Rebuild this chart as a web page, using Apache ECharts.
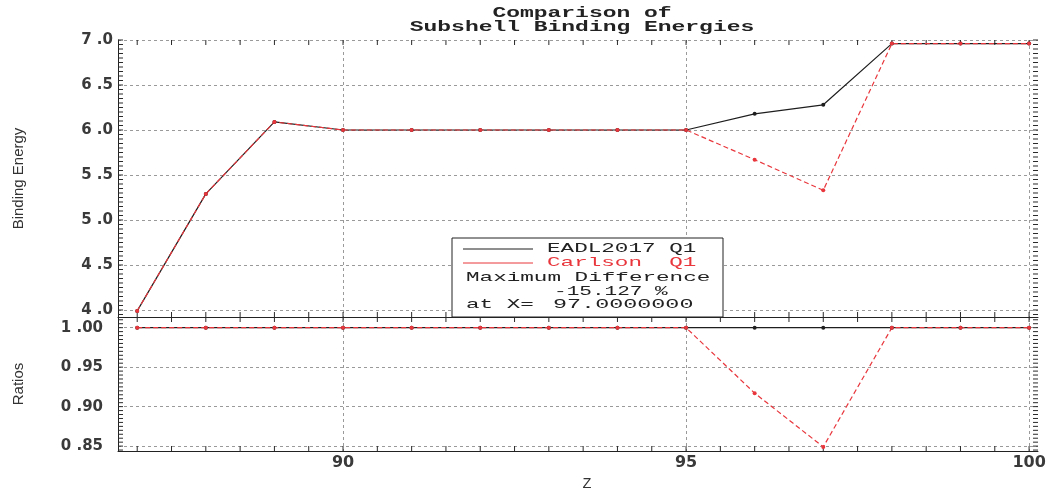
<!DOCTYPE html>
<html><head><meta charset="utf-8">
<script src="https://cdn.jsdelivr.net/npm/echarts@6/dist/echarts.min.js"></script>
<style>html,body{margin:0;padding:0;background:#fff}#c{width:1060px;height:493px}</style>
</head><body><div id="c"></div>
<script>
// ---- data ----
const zValues      = [87, 88, 89, 90, 91, 92, 93, 94, 95, 96, 97, 98, 99, 100];
const eadlQ1       = [3.99, 5.29, 6.09, 6.0, 6.0, 6.0, 6.0, 6.0, 6.0, 6.18, 6.28, 6.96, 6.96, 6.96];
const carlsonQ1    = [3.99, 5.29, 6.09, 6.0, 6.0, 6.0, 6.0, 6.0, 6.0, 5.67, 5.33, 6.96, 6.96, 6.96];
const ratioEadl    = [1, 1, 1, 1, 1, 1, 1, 1, 1, 1, 1, 1, 1, 1];
const ratioCarlson = [1, 1, 1, 1, 1, 1, 1, 1, 1, 0.917, 0.849, 1, 1, 1];
const xTickLabels      = [90, 95, 100];
const energyTickLabels = [4.0, 4.5, 5.0, 5.5, 6.0, 6.5, 7.0];
const ratioTickLabels  = [0.85, 0.90, 0.95, 1.00];
const titleLines  = ['Comparison of', 'Subshell Binding Energies'];
const seriesNames = ['EADL2017 Q1', 'Carlson  Q1'];
const diffLines   = ['Maximum Difference', '-15.127 %', 'at X=', '97.0000000'];

// axis extents (plot box edges)
const xRange = [86.72, 100.13];
const energyRange = [3.922, 7.0];
const ratioRange = [0.8438, 1.0135];
// minor tick spans
const xMinor = {min: 87, count: 27, step: 0.5};
const energyMinor = {min: 3.95, count: 62, step: 0.05};
const ratioMinor = {min: 0.845, count: 34, step: 0.005};

function tickList(m) {
  const out = [];
  for (let i = 0; i < m.count; i++) out.push(+(m.min + i * m.step).toFixed(4));
  return out;
}
const xTicks = tickList(xMinor);
const energyTicks = tickList(energyMinor);
const ratioTicks = tickList(ratioMinor);

const BLACK = '#1e1e1e', RED = '#e8363c', GRID = '#9a9a9a', TICK = '#2a2a2a';
const labelFont = {fontFamily: '"DejaVu Sans", sans-serif', fontWeight: 'bold', fontSize: 15, color: '#3a3a3a'};
const monoFont = '"Liberation Mono", "DejaVu Sans Mono", monospace';
const nameFont = {fontFamily: '"Liberation Sans Narrow", "Liberation Sans", sans-serif', fontSize: 15, color: '#333'};

const off = () => ({show: false});
const gridSplit = () => ({show: true, lineStyle: {color: GRID, type: [3, 3], width: 1}});
function gridAxis(extra, majors) {
  return Object.assign({type: 'value', axisLine: off(), axisLabel: off(),
    axisTick: {show: false, customValues: majors}, splitLine: gridSplit()}, extra);
}

// short tick marks drawn as thin rectangle symbols sitting on the panel edges
const LEN = 5;
function tickMarks(xi, yi, points, size, offset) {
  return {type: 'scatter', xAxisIndex: xi, yAxisIndex: yi, silent: true, clip: false, z: 4,
    symbol: 'rect', symbolSize: size, symbolOffset: offset,
    itemStyle: {color: TICK, opacity: 1}, emphasis: {disabled: true},
    data: points};
}
function panelTicks(xi, yi, yRange, yTicks) {
  return [
    tickMarks(xi, yi, xTicks.map(v => [v, yRange[0]]), [1, LEN], [0, -LEN / 2]),
    tickMarks(xi, yi, xTicks.map(v => [v, yRange[1]]), [1, LEN], [0, LEN / 2]),
    tickMarks(xi, yi, yTicks.map(v => [xRange[0], v]), [LEN, 1], [LEN / 2, 0]),
    tickMarks(xi, yi, yTicks.map(v => [xRange[1], v]), [LEN, 1], [-LEN / 2, 0])
  ];
}

const chart = echarts.init(document.getElementById('c'), null, {renderer: 'canvas'});
const option = {
  animation: false,
  backgroundColor: '#fff',
  grid: [
    {left: 118, width: 920, top: 40, height: 277, show: false},
    {left: 118, width: 920, top: 317, height: 138, show: false}
  ],
  xAxis: [
    {type: 'value', gridIndex: 0, min: xRange[0], max: xRange[1], splitNumber: 3,
     axisLine: {show: true, lineStyle: {color: '#222'}}, axisTick: off(), axisLabel: off(), splitLine: off()},
    {type: 'value', gridIndex: 1, min: xRange[0], max: xRange[1], splitNumber: 3,
     axisLine: {show: true, lineStyle: {color: '#222'}}, axisTick: off(),
     axisLabel: Object.assign({customValues: xTickLabels, margin: 4}, labelFont, {fontSize: 16}),
     splitLine: off(),
     name: 'Z', nameLocation: 'middle', nameGap: 26,
     nameTextStyle: {fontFamily: monoFont, fontSize: 15, color: '#333', padding: [0, 0, 0, 18]}},
    gridAxis({gridIndex: 0, min: xRange[0], max: xRange[1], splitNumber: 3}, xTickLabels),
    gridAxis({gridIndex: 1, min: xRange[0], max: xRange[1], splitNumber: 3}, xTickLabels)
  ],
  yAxis: [
    {type: 'value', gridIndex: 0, min: energyRange[0], max: energyRange[1], splitNumber: 6,
     axisLine: {show: true, lineStyle: {color: '#222'}}, axisTick: off(),
     axisLabel: Object.assign({customValues: energyTickLabels, margin: 5,
       formatter: v => v.toFixed(1).replace('.', ' .')}, labelFont),
     splitLine: off(),
     name: 'Binding Energy', nameLocation: 'middle', nameRotate: 90, nameGap: 92, nameTextStyle: nameFont},
    {type: 'value', gridIndex: 1, min: ratioRange[0], max: ratioRange[1], splitNumber: 3,
     axisLine: {show: true, lineStyle: {color: '#222'}}, axisTick: off(),
     axisLabel: Object.assign({customValues: ratioTickLabels, margin: 15,
       formatter: v => v.toFixed(2).replace('.', ' .')}, labelFont),
     splitLine: off(),
     name: 'Ratios', nameLocation: 'middle', nameRotate: 90, nameGap: 92, nameTextStyle: nameFont},
    gridAxis({gridIndex: 0, min: energyRange[0], max: energyRange[1], splitNumber: 6}, energyTickLabels),
    gridAxis({gridIndex: 1, min: ratioRange[0], max: ratioRange[1], splitNumber: 3}, ratioTickLabels)
  ],
  series: [].concat(
    panelTicks(0, 0, energyRange, energyTicks),
    panelTicks(1, 1, ratioRange, ratioTicks),
    [
      {type: 'line', name: seriesNames[0], xAxisIndex: 0, yAxisIndex: 0, z: 6,
       data: zValues.map((z, i) => [z, eadlQ1[i]]), symbol: 'circle', symbolSize: 4,
       itemStyle: {color: BLACK}, lineStyle: {color: BLACK, width: 1.2}},
      {type: 'line', name: seriesNames[1], xAxisIndex: 0, yAxisIndex: 0, z: 6,
       data: zValues.map((z, i) => [z, carlsonQ1[i]]), symbol: 'circle', symbolSize: 4,
       itemStyle: {color: RED}, lineStyle: {color: RED, width: 1.2, type: [5, 3]}},
      {type: 'line', name: seriesNames[0] + ' ratio', xAxisIndex: 1, yAxisIndex: 1, z: 6,
       data: zValues.map((z, i) => [z, ratioEadl[i]]), symbol: 'circle', symbolSize: 4,
       itemStyle: {color: BLACK}, lineStyle: {color: BLACK, width: 1.2}},
      {type: 'line', name: seriesNames[1] + ' ratio', xAxisIndex: 1, yAxisIndex: 1, z: 6,
       data: zValues.map((z, i) => [z, ratioCarlson[i]]), symbol: 'circle', symbolSize: 4,
       itemStyle: {color: RED}, lineStyle: {color: RED, width: 1.2, type: [5, 3]}}
    ]
  ),
  graphic: [
    {type: 'text', x: 582, y: 13, scaleX: 1.64, z: 10,
     style: {text: titleLines[0], font: 'bold 14px ' + monoFont, fill: '#222', align: 'center', verticalAlign: 'middle'}},
    {type: 'text', x: 582, y: 27, scaleX: 1.64, z: 10,
     style: {text: titleLines[1], font: 'bold 14px ' + monoFont, fill: '#222', align: 'center', verticalAlign: 'middle'}},
    {type: 'rect', z: 10, shape: {x: 452, y: 238, width: 271, height: 79},
     style: {fill: '#fff', stroke: '#222', lineWidth: 1}},
    {type: 'line', z: 11, shape: {x1: 463, y1: 249, x2: 533, y2: 249}, style: {stroke: BLACK, lineWidth: 1}},
    {type: 'line', z: 11, shape: {x1: 463, y1: 263, x2: 533, y2: 263}, style: {stroke: RED, lineWidth: 1}},
    {type: 'text', z: 11, x: 547, y: 249, scaleX: 1.74,
     style: {text: seriesNames[0], font: '13px ' + monoFont, fill: '#222', align: 'left', verticalAlign: 'middle'}},
    {type: 'text', z: 11, x: 547, y: 263, scaleX: 1.74,
     style: {text: seriesNames[1], font: '13px ' + monoFont, fill: RED, align: 'left', verticalAlign: 'middle'}},
    {type: 'text', z: 11, x: 466, y: 278, scaleX: 1.74,
     style: {text: diffLines[0], font: '13px ' + monoFont, fill: '#222', align: 'left', verticalAlign: 'middle'}},
    {type: 'text', z: 11, x: 554, y: 292, scaleX: 1.62,
     style: {text: diffLines[1], font: '13px ' + monoFont, fill: '#222', align: 'left', verticalAlign: 'middle'}},
    {type: 'text', z: 11, x: 466, y: 305, scaleX: 1.74,
     style: {text: diffLines[2], font: '13px ' + monoFont, fill: '#222', align: 'left', verticalAlign: 'middle'}},
    {type: 'text', z: 11, x: 553, y: 305, scaleX: 1.8,
     style: {text: diffLines[3], font: '13px ' + monoFont, fill: '#222', align: 'left', verticalAlign: 'middle'}}
  ]
};
chart.setOption(option);
</script>
</body></html>
